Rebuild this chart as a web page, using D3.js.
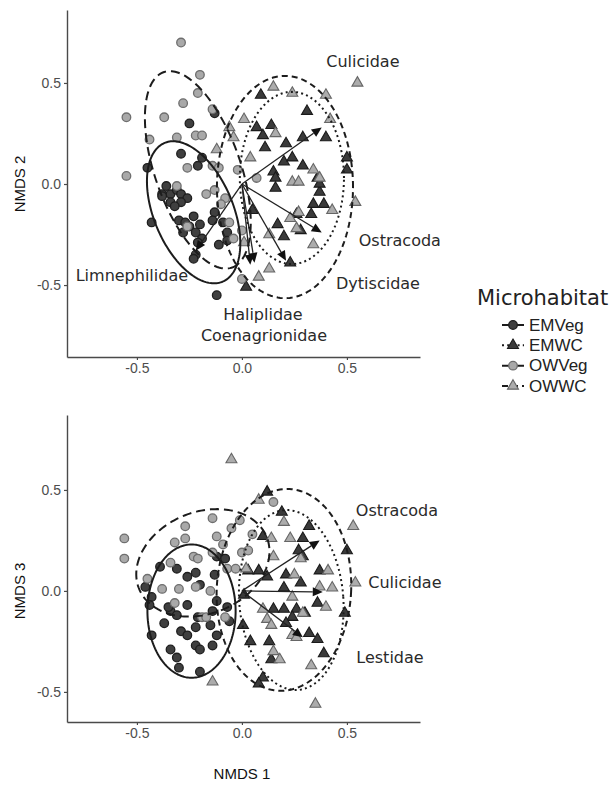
<!DOCTYPE html>
<html><head><meta charset="utf-8">
<script src="https://cdn.jsdelivr.net/npm/d3@7"></script>
<style>body{margin:0;background:#fff}</style>
</head><body>
<svg id="c" width="614" height="812"></svg>
<script>
// ---------- DATA ----------
const groups = ["EMVeg", "EMWC", "OWVeg", "OWWC"];
const xTicks = [-0.5, 0, 0.5];
const yTicks = [-0.5, 0, 0.5];
const xLim = [-0.833, 0.848];
const yLim2 = [-0.856, 0.861];
const yLim3 = [-0.649, 0.871];

// NMDS1 vs NMDS2
const emVeg2 = [[-0.13,0.35],[-0.25,0.30],[-0.29,0.15],[-0.19,0.13],[-0.21,0.09],[-0.45,0.08],
[-0.36,-0.01],[-0.38,-0.05],[-0.34,-0.05],[-0.31,-0.03],[-0.29,-0.05],[-0.26,-0.07],
[-0.29,-0.09],[-0.34,-0.09],[-0.38,-0.06],[-0.43,-0.19],[-0.30,-0.18],[-0.27,-0.19],
[-0.25,-0.21],[-0.28,-0.24],[-0.22,-0.24],[-0.20,-0.20],[-0.19,-0.27],[-0.21,-0.29],
[-0.22,-0.35],[-0.23,-0.37],[-0.13,-0.14],[-0.14,-0.18],[-0.09,-0.19],[-0.07,-0.24],
[-0.07,-0.28],[-0.11,-0.30],[-0.12,-0.55],[-0.23,-0.16],[-0.32,-0.11]];
const owVeg2 = [[-0.29,0.70],[-0.20,0.54],[-0.21,0.45],[-0.28,0.40],[-0.55,0.33],[-0.37,0.33],
[-0.14,0.37],[-0.31,0.23],[-0.22,0.24],[-0.19,0.24],[-0.44,0.22],[-0.26,0.08],
[-0.14,0.09],[-0.11,0.08],[-0.55,0.04],[-0.02,0.07],[-0.31,-0.01],[-0.17,-0.05],
[-0.13,-0.03],[-0.08,-0.07],[-0.10,-0.10],[-0.06,-0.19],[0.00,-0.23],[-0.04,-0.27],
[-0.26,-0.21],[0.00,-0.47],[0.07,0.03]];
const emWC2 = [[0.09,0.44],[0.31,0.36],[0.07,0.28],[0.10,0.24],[0.14,0.29],[0.11,0.18],[0.21,0.20],
[0.29,0.23],[0.40,0.23],[0.20,0.11],[0.24,0.13],[0.29,0.09],[0.15,0.06],[0.16,0.03],
[0.36,0.03],[0.37,-0.04],[0.50,0.13],[0.50,0.07],[0.34,-0.10],[0.39,-0.10],[0.33,-0.15],
[0.26,-0.15],[0.20,-0.26],[0.05,-0.13],[0.17,-0.20],[0.28,-0.23],[0.23,-0.39],[0.02,-0.51],
[0.37,0.00],[0.16,-0.02]];
const owWC2 = [[0.55,0.50],[0.15,0.48],[0.24,0.45],[0.40,0.44],[0.01,0.32],[-0.06,0.28],[-0.04,0.23],
[0.16,0.25],[0.42,0.32],[-0.12,0.17],[0.04,0.13],[0.34,0.07],[0.24,0.01],[0.27,0.01],
[0.37,0.03],[0.43,-0.13],[0.27,-0.14],[0.23,-0.17],[0.13,-0.25],[0.34,-0.30],[0.01,-0.29],
[0.54,-0.09],[0.13,-0.42],[0.08,-0.46],[0.26,-0.22]];

// NMDS1 vs NMDS3
const emVeg3 = [[-0.39,0.12],[-0.12,0.17],[-0.08,0.16],[-0.31,0.11],[-0.26,0.07],[-0.22,0.09],[-0.20,0.03],
[-0.13,0.08],[-0.46,0.02],[-0.43,-0.03],[-0.34,-0.10],[-0.31,-0.12],[-0.26,-0.07],[-0.21,-0.13],
[-0.14,-0.10],[-0.12,-0.05],[-0.07,-0.08],[-0.06,-0.15],[-0.37,-0.16],[-0.29,-0.20],[-0.26,-0.22],
[-0.22,-0.18],[-0.15,-0.17],[-0.12,-0.22],[-0.22,-0.27],[-0.20,-0.29],[-0.14,-0.27],[-0.34,-0.29],
[-0.31,-0.33],[-0.43,-0.22],[-0.30,-0.38],[-0.20,-0.40],[-0.44,-0.07],[-0.35,-0.08]];
const owVeg3 = [[-0.14,0.36],[-0.01,0.35],[-0.27,0.32],[-0.05,0.31],[-0.12,0.27],[0.05,0.28],[-0.56,0.26],
[-0.27,0.26],[-0.32,0.24],[-0.09,0.23],[-0.56,0.16],[-0.23,0.17],[-0.21,0.16],[-0.14,0.19],
[-0.34,0.14],[0.00,0.19],[0.03,0.20],[-0.07,0.11],[-0.03,0.11],[-0.45,0.06],[-0.38,0.01],
[-0.30,0.01],[-0.22,0.02],[-0.32,-0.06],[-0.15,0.00],[-0.19,-0.13],[-0.17,-0.13],[0.15,0.44],
[-0.08,-0.13]];
const emWC3 = [[0.12,0.49],[0.19,0.39],[0.32,0.32],[0.29,0.26],[0.10,0.27],[0.27,0.20],[0.29,0.17],
[0.50,0.20],[0.12,0.07],[0.21,0.08],[0.28,0.04],[0.37,0.10],[0.08,0.10],[0.03,0.10],[0.20,0.015],
[0.01,-0.02],[0.36,-0.06],[0.49,-0.11],[0.15,-0.09],[0.20,-0.09],[0.26,-0.09],[0.30,-0.11],
[0.24,-0.13],[0.005,-0.17],[0.21,-0.16],[0.32,-0.21],[0.36,-0.24],[0.04,-0.25],[0.13,-0.25],
[0.39,-0.31],[0.14,-0.34],[0.10,-0.43],[0.08,-0.46]];
const owWC3 = [[-0.05,0.65],[0.08,0.45],[0.20,0.34],[0.14,0.26],[0.23,0.26],[0.53,0.32],[0.15,0.17],
[0.28,0.16],[0.02,0.11],[0.25,0.08],[0.41,0.10],[0.54,0.04],[0.43,0.015],[0.37,0.02],[0.24,-0.03],
[0.10,-0.09],[0.29,-0.11],[0.40,-0.08],[0.12,-0.14],[0.14,-0.17],[0.24,-0.22],[0.26,-0.23],
[0.15,-0.30],[0.18,-0.34],[0.33,-0.37],[-0.14,-0.45],[0.35,-0.56]];

// ellipses: [centreX, centreY, semiAxisA, semiAxisB, angleDeg]
const ell2 = {EMVeg:[-0.23,-0.14,0.37,0.19,-68.7], EMWC:[0.238,0.03,0.248,0.426,0],
              OWVeg:[-0.21,0.07,0.51,0.205,-71.7], OWWC:[0.205,-0.015,0.324,0.55,0]};
const ell3 = {EMVeg:[-0.24,-0.10,0.21,0.33,0], EMWC:[0.235,-0.045,0.248,0.446,4],
              OWVeg:[-0.186,0.139,0.33,0.25,25], OWWC:[0.20,0.005,0.32,0.50,-3]};

// fitted taxa vectors
const taxa2 = ["Culicidae","Ostracoda","Dytiscidae","Haliplidae","Coenagrionidae","Limnephilidae"];
const vecX2 = [0.38, 0.38, 0.21, 0.04, 0.06, -0.22];
const vecY2 = [0.28, -0.24, -0.38, -0.40, -0.39, -0.33];
const labX2 = [0.576, 0.752, 0.648, 0.10, 0.105, -0.524];
const labY2 = [0.604, -0.282, -0.490, -0.644, -0.748, -0.455];
const taxa3 = ["Ostracoda","Culicidae","Lestidae"];
const vecX3 = [0.37, 0.385, 0.29];
const vecY3 = [0.25, -0.005, -0.23];
const labX3 = [0.738, 0.776, 0.705];
const labY3 = [0.40, 0.04, -0.33];

// ---------- DRAW ----------
const svg = d3.select("#c");
const style = {
  EMVeg:{shape:"circle", fill:"#3f3f3f", stroke:"#1e1e1e", dash:null},
  EMWC:{shape:"triangle", fill:"#3a3a3a", stroke:"#1a1a1a", dash:"2,3.2"},
  OWVeg:{shape:"circle", fill:"#a9a9a9", stroke:"#6e6e6e", dash:"9,5"},
  OWWC:{shape:"triangle", fill:"#acacac", stroke:"#666", dash:"6,4"}
};
const fmt = d => d === 0 ? "0.0" : (d < 0 ? "-" : "") + Math.abs(d).toFixed(1);

function drawPanel(cfg) {
  const x = d3.scaleLinear().domain(xLim).range([67, 420]);
  const y = d3.scaleLinear().domain(cfg.yLim).range([cfg.bottom, cfg.top]);
  const g = svg.append("g");

  const ax = g.append("g").attr("transform", `translate(0,${cfg.bottom})`)
    .call(d3.axisBottom(x).tickValues(xTicks).tickSize(3).tickSizeOuter(0).tickPadding(3).tickFormat(fmt));
  const ay = g.append("g").attr("transform", `translate(67,0)`)
    .call(d3.axisLeft(y).tickValues(yTicks).tickSize(3).tickSizeOuter(0).tickPadding(3).tickFormat(fmt));
  [ax, ay].forEach(a => {
    a.select(".domain").attr("stroke", "#4a4a4a").attr("stroke-width", 1.4);
    a.selectAll(".tick line").attr("stroke", "#4a4a4a").attr("stroke-width", 1.2);
    a.selectAll(".tick text").attr("fill", "#4d4d4d").style("font-family", "Liberation Sans, Arial, sans-serif").style("font-size", "14px");
  });

  // points
  const sym = d3.symbol().type(d3.symbolTriangle).size(52);
  cfg.points.forEach(([grp, arr]) => {
    const st = style[grp];
    if (st.shape === "circle") {
      g.append("g").selectAll("circle").data(arr).join("circle")
        .attr("cx", d => x(d[0])).attr("cy", d => y(d[1])).attr("r", 4.3)
        .attr("fill", st.fill).attr("stroke", st.stroke).attr("stroke-width", 1.3);
    } else {
      g.append("g").selectAll("path").data(arr).join("path")
        .attr("d", sym).attr("transform", d => `translate(${x(d[0])},${y(d[1])})`)
        .attr("fill", st.fill).attr("stroke", st.stroke).attr("stroke-width", 1.1);
    }
  });

  // ellipses
  const line = d3.line().x(d => x(d[0])).y(d => y(d[1])).curve(d3.curveLinearClosed);
  groups.forEach(grp => {
    const [cx, cy, a, b, ang] = cfg.ell[grp];
    const th = ang * Math.PI / 180;
    const pts = d3.range(0, 360, 2).map(t => {
      const r = t * Math.PI / 180;
      return [cx + a * Math.cos(r) * Math.cos(th) - b * Math.sin(r) * Math.sin(th),
              cy + a * Math.cos(r) * Math.sin(th) + b * Math.sin(r) * Math.cos(th)];
    });
    g.append("path").attr("d", line(pts)).attr("fill", "none")
      .attr("stroke", "#1c1c1c").attr("stroke-width", 2)
      .attr("stroke-dasharray", style[grp].dash);
  });

  // vectors
  cfg.taxa.forEach((name, i) => {
    const x0 = x(0), y0 = y(0), x1 = x(cfg.vx[i]), y1 = y(cfg.vy[i]);
    const angle = Math.atan2(y1 - y0, x1 - x0);
    const L = 10, W = 4.5;
    const bx = x1 - L * Math.cos(angle), by = y1 - L * Math.sin(angle);
    g.append("line").attr("x1", x0).attr("y1", y0).attr("x2", bx).attr("y2", by)
      .attr("stroke", "#222").attr("stroke-width", 1.3);
    g.append("path").attr("d", `M${x1},${y1}L${bx - W * Math.sin(angle)},${by + W * Math.cos(angle)}L${bx + W * Math.sin(angle)},${by - W * Math.cos(angle)}Z`)
      .attr("fill", "#111");
    g.append("text").attr("x", x(cfg.lx[i])).attr("y", y(cfg.ly[i]))
      .attr("text-anchor", "middle").attr("dominant-baseline", "central")
      .style("font-family", "DejaVu Sans, Verdana, sans-serif").style("font-size", "16px")
      .attr("fill", "#2a2a2a").text(name);
  });

  // axis title
  g.append("text").attr("transform", `translate(19,${y(0)}) rotate(-90)`)
    .attr("text-anchor", "middle").attr("dominant-baseline", "central")
    .style("font-family", "Liberation Sans, Arial, sans-serif").style("font-size", "15px")
    .attr("fill", "#111").text(cfg.yTitle);
  return x;
}

drawPanel({top: 10, bottom: 357, yLim: yLim2, yTitle: "NMDS 2", ell: ell2,
  points: [["EMVeg", emVeg2], ["EMWC", emWC2], ["OWVeg", owVeg2], ["OWWC", owWC2]],
  taxa: taxa2, vx: vecX2, vy: vecY2, lx: labX2, ly: labY2});
const xb = drawPanel({top: 415, bottom: 722, yLim: yLim3, yTitle: "NMDS 3", ell: ell3,
  points: [["EMVeg", emVeg3], ["EMWC", emWC3], ["OWVeg", owVeg3], ["OWWC", owWC3]],
  taxa: taxa3, vx: vecX3, vy: vecY3, lx: labX3, ly: labY3});

svg.append("text").attr("x", xb(0)).attr("y", 773)
  .attr("text-anchor", "middle").attr("dominant-baseline", "central")
  .style("font-family", "Liberation Sans, Arial, sans-serif").style("font-size", "15px")
  .attr("fill", "#111").text("NMDS 1");

// legend
const lg = svg.append("g");
lg.append("text").attr("x", 477).attr("y", 298).attr("dominant-baseline", "central")
  .style("font-family", "DejaVu Sans, Verdana, sans-serif").style("font-size", "21px")
  .attr("fill", "#222").text("Microhabitat");
const legY = d3.scalePoint().domain(groups).range([325, 386]);
const legSym = d3.symbol().type(d3.symbolTriangle).size(52);
groups.forEach(grp => {
  const st = style[grp], cy = legY(grp);
  lg.append("line").attr("x1", 502).attr("x2", 524).attr("y1", cy).attr("y2", cy)
    .attr("stroke", "#1c1c1c").attr("stroke-width", 2).attr("stroke-dasharray", st.dash);
  if (st.shape === "circle") {
    lg.append("circle").attr("cx", 513).attr("cy", cy).attr("r", 4.3)
      .attr("fill", st.fill).attr("stroke", st.stroke).attr("stroke-width", 1.3);
  } else {
    lg.append("path").attr("d", legSym).attr("transform", `translate(513,${cy})`)
      .attr("fill", st.fill).attr("stroke", st.stroke).attr("stroke-width", 1.1);
  }
  lg.append("text").attr("x", 529).attr("y", cy).attr("dominant-baseline", "central")
    .style("font-family", "Liberation Sans, Arial, sans-serif").style("font-size", "17px")
    .attr("fill", "#222").text(grp);
});
</script></body></html>
